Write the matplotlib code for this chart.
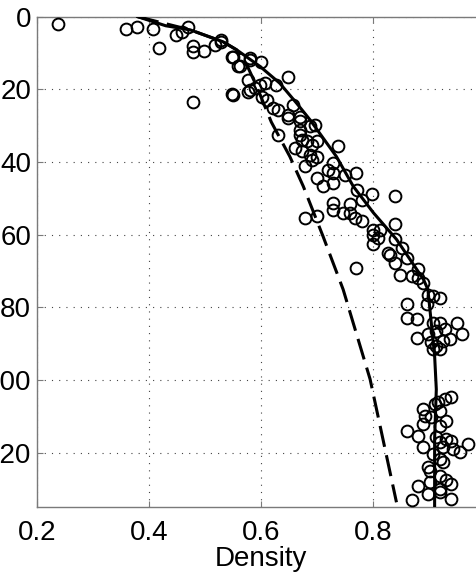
import matplotlib
matplotlib.use("Agg")
import matplotlib.pyplot as plt

# Mediciones: densidad vs profundidad
densidad_obs = [
    0.238, 0.359, 0.379, 0.408, 0.418, 0.449, 0.469, 0.458, 0.478, 0.479,
    0.498, 0.478, 0.529, 0.518, 0.548, 0.559, 0.548, 0.577, 0.577, 0.580,
    0.599, 0.648, 0.580, 0.589, 0.598, 0.607, 0.627, 0.601, 0.610, 0.621,
    0.630, 0.657, 0.648, 0.648, 0.669, 0.669, 0.669, 0.669, 0.672, 0.630,
    0.696, 0.687, 0.681, 0.699, 0.690, 0.660, 0.672, 0.687, 0.699, 0.737,
    0.678, 0.690, 0.699, 0.710, 0.719, 0.728, 0.728, 0.728, 0.749, 0.769,
    0.770, 0.779, 0.798, 0.838, 0.728, 0.728, 0.746, 0.758, 0.758, 0.767,
    0.779, 0.678, 0.699, 0.800, 0.800, 0.811, 0.800, 0.808, 0.838, 0.838,
    0.826, 0.829, 0.838, 0.850, 0.859, 0.769, 0.847, 0.868, 0.880, 0.880,
    0.889, 0.897, 0.906, 0.918, 0.895, 0.859, 0.859, 0.877, 0.906, 0.918,
    0.948, 0.912, 0.927, 0.957, 0.877, 0.897, 0.903, 0.912, 0.924, 0.936,
    0.906, 0.918, 0.939, 0.927, 0.915, 0.909, 0.889, 0.918, 0.892, 0.903,
    0.930, 0.889, 0.918, 0.859, 0.880, 0.912, 0.930, 0.939, 0.918, 0.969,
    0.889, 0.924, 0.942, 0.954, 0.906, 0.918, 0.924, 0.897, 0.900, 0.918,
    0.930, 0.900, 0.880, 0.939, 0.918, 0.897, 0.918, 0.868, 0.939, 0.529,
    0.550, 0.562, 0.580, 0.550,
]
profundidad_obs = [
    2.0, 3.5, 2.7, 3.5, 8.7, 5.0, 2.7, 4.1, 8.2, 9.6,
    9.4, 23.5, 7.1, 7.8, 11.2, 13.7, 21.3, 17.4, 20.6, 11.9,
    12.4, 16.5, 20.1, 19.7, 18.8, 18.3, 18.8, 22.0, 22.9, 25.2,
    25.6, 24.3, 27.0, 27.9, 27.5, 28.8, 31.1, 32.5, 33.9, 32.5,
    29.8, 30.2, 34.3, 34.3, 35.2, 36.2, 37.1, 38.0, 38.5, 35.7,
    41.2, 39.4, 44.4, 46.7, 42.1, 40.3, 43.0, 45.8, 43.5, 43.0,
    47.6, 50.4, 48.8, 49.3, 51.3, 53.1, 54.0, 51.7, 54.0, 55.4,
    56.3, 55.4, 54.9, 58.6, 60.0, 58.6, 62.7, 60.9, 57.0, 61.3,
    65.0, 65.5, 67.7, 63.6, 66.4, 69.1, 71.0, 71.4, 69.6, 71.9,
    73.2, 76.5, 76.9, 77.4, 79.2, 79.2, 82.9, 83.3, 84.2, 84.2,
    84.2, 86.5, 86.1, 87.4, 88.4, 87.4, 89.7, 90.7, 89.3, 88.8,
    91.6, 91.6, 104.8, 105.3, 106.2, 106.7, 108.0, 108.5, 109.9, 110.3,
    111.3, 112.2, 112.6, 114.0, 115.4, 115.8, 116.3, 116.8, 117.2, 117.7,
    118.6, 118.6, 119.0, 119.9, 120.4, 121.8, 122.7, 124.1, 125.0, 126.4,
    127.7, 128.2, 129.1, 128.6, 130.0, 131.4, 130.9, 133.0, 132.8, 6.4,
    11.0, 13.7, 11.4, 21.5,
]

# Curva ajustada (linea continua)
densidad_ajuste = [0.380, 0.430, 0.473, 0.532, 0.556, 0.598, 0.633, 0.663, 0.687,
                   0.734, 0.764, 0.800, 0.841, 0.889, 0.897, 0.909, 0.912, 0.909, 0.909]
profundidad_ajuste = [0.0, 2.5, 3.6, 6.9, 9.1, 13.7, 18.3, 23.8, 28.4,
                      38.5, 46.7, 54.0, 61.3, 72.3, 75.1, 93.4, 102.6, 116.3, 135.0]

# Modelo (linea discontinua)
densidad_modelo = [0.380, 0.473, 0.532, 0.556, 0.575, 0.592, 0.618, 0.651, 0.675,
                   0.710, 0.746, 0.794, 0.841]
profundidad_modelo = [0.0, 3.6, 6.9, 9.1, 13.5, 19.2, 29.0, 38.5, 46.7,
                      60.4, 75.1, 99.8, 133.7]

x_ticks = [0.2, 0.4, 0.6, 0.8]
y_ticks = [0, 20, 40, 60, 80, 100, 120]


def graficar(nombre_png="out.png"):
    """Perfil de densidad con la profundidad hacia abajo."""
    plt.rcParams['font.family'] = ['Liberation Sans', 'DejaVu Sans']
    fig = plt.figure(figsize=(4.77, 5.73), dpi=100)
    # ejes corridos: etiquetas de la izquierda y borde derecho quedan recortados
    ax = fig.add_axes([36.7 / 477, 66 / 573, 449 / 477, 490.3 / 573])

    ax.plot(densidad_obs, profundidad_obs, 'o', ms=8.5, mfc='none',
            mec='black', mew=1.4, zorder=3)
    ax.plot(densidad_ajuste, profundidad_ajuste, '-', color='black', lw=2.2, zorder=4)
    ax.plot(densidad_modelo, profundidad_modelo, '--', color='black', lw=2.2,
            dashes=(7, 2.8), zorder=4)

    ax.set_xlim(0.2, 1.0)
    ax.set_ylim(135, 0)
    ax.set_xticks(x_ticks)
    ax.set_yticks(y_ticks)
    ax.set_xticklabels([f"{v:.1f}" for v in x_ticks])
    ax.set_yticklabels([str(v) for v in y_ticks])

    ax.grid(True, color='#444444', linestyle=(0, (1, 5.5)), lw=0.8)
    for s in ax.spines.values():
        s.set_color('#7a7a7a')
        s.set_linewidth(1.0)
    ax.tick_params(axis='both', direction='in', length=4, width=0.8,
                   colors='#7a7a7a', labelcolor='black', labelsize=20,
                   top=True, right=True)
    ax.tick_params(axis='x', pad=9)
    ax.tick_params(axis='y', pad=4)
    ax.set_xlabel("Density", fontsize=20, labelpad=0)

    fig.savefig(nombre_png, dpi=100)
    plt.close(fig)


if __name__ == "__main__":
    graficar()
